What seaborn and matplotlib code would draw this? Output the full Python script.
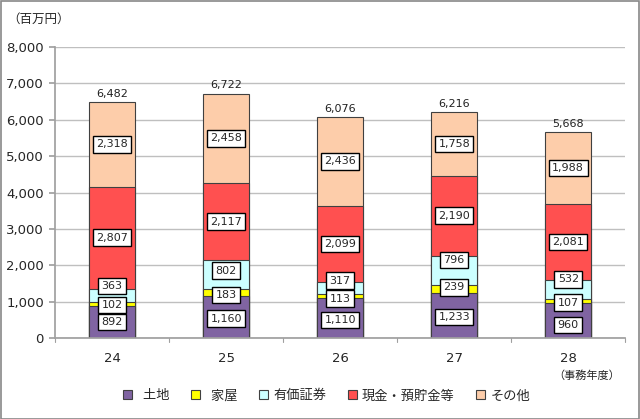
import numpy as np
import pandas as pd
import matplotlib
matplotlib.use('Agg')
import matplotlib.pyplot as plt
import seaborn as sns
from matplotlib.patches import Patch

years = ['24', '25', '26', '27', '28']
series = ['土地', '家屋', '有価証券', '現金・預貯金等', 'その他']
land = [892, 1160, 1110, 1233, 960]
house = [102, 183, 113, 239, 107]
securities = [363, 802, 317, 796, 532]
cash = [2807, 2117, 2099, 2190, 2081]
other = [2318, 2458, 2436, 1758, 1988]
totals = [6482, 6722, 6076, 6216, 5668]

colors = ['#8064A2', '#FFFF00', '#CCFFFF', '#FF5050', '#FDCDAA']

sns.set_theme(style='white')
plt.rcParams['font.family'] = ['Noto Sans CJK JP', 'DejaVu Sans']

values = np.array([land, house, securities, cash, other])
cum = values.cumsum(axis=0)

fig = plt.figure(figsize=(6.4, 4.19), dpi=100)
ax = fig.add_axes([0.086, 0.193, 0.891, 0.695])

# draw cumulative bars from the top layer down so each covers the next
for i in range(len(series) - 1, -1, -1):
    df = pd.DataFrame({'year': years, 'v': cum[i]})
    sns.barplot(data=df, x='year', y='v', color=colors[i], width=0.4,
                edgecolor='#404040', linewidth=0.8, saturation=1, ax=ax)

# label nudges (data units) so small segments' boxes don't collide
nudge = {
    0: [0, -49, -60, -39, -123],
    1: [-36, -69, -86, 42, -43],
    2: [255, 106, 194, 275, 279],
}

for j in range(len(years)):
    for i in range(len(series)):
        base = cum[i - 1][j] if i > 0 else 0
        yc = base + values[i][j] / 2 + (nudge[i][j] if i in nudge else 0)
        ax.text(j, yc, f'{values[i][j]:,}', ha='center', va='center', fontsize=8,
                family=['DejaVu Sans'],
                bbox=dict(boxstyle='square,pad=0.3', fc='white', ec='black', lw=1.0))
    ax.text(j, totals[j] + 90, f'{totals[j]:,}', ha='center', va='bottom', fontsize=8,
            family=['DejaVu Sans'], color='#202020')

ax.set_ylim(0, 8000)
ax.set_xlim(-0.5, 4.5)
ax.set_yticks(range(0, 8001, 1000))
ax.set_yticklabels([f'{v:,}' for v in range(0, 8001, 1000)], fontsize=9.5,
                   family=['DejaVu Sans'])
ax.yaxis.grid(True, color='#BFBFBF', linewidth=1)
ax.set_axisbelow(True)
ax.set_xlabel('')
ax.set_ylabel('')
ax.tick_params(axis='x', labelsize=9.5, length=0, pad=10)
ax.tick_params(axis='y', length=4, color='#A0A0A0', left=True, pad=4)
for lab in ax.get_xticklabels():
    lab.set_family(['DejaVu Sans'])
for s in ['top', 'right']:
    ax.spines[s].set_visible(False)
ax.spines['left'].set_color('#A0A0A0')
ax.spines['bottom'].set_color('#A0A0A0')
for k in range(6):
    ax.plot([k - 0.5, k - 0.5], [0, -100], color='#A0A0A0', lw=0.8, clip_on=False)

fig.text(0.012, 0.955, '（百万円）', fontsize=9, va='center')
fig.text(0.865, 0.103, '（事務年度）', fontsize=8, va='center')

handles = [Patch(facecolor=c, edgecolor='#404040', linewidth=0.8) for c in colors]
labels = ['  土地', '  家屋', '有価証券', '現金・預貯金等', 'その他']
fig.legend(handles, labels, loc='center', bbox_to_anchor=(0.51, 0.055), ncol=5,
           frameon=False, fontsize=9.5, handlelength=0.7, handleheight=0.7,
           handletextpad=0.4, columnspacing=1.6)

fig.patches.append(plt.Rectangle((0.001, 0.001), 0.997, 0.997, transform=fig.transFigure,
                                 fill=False, ec='#888888', lw=1.2))

fig.savefig('out.png', dpi=100)
